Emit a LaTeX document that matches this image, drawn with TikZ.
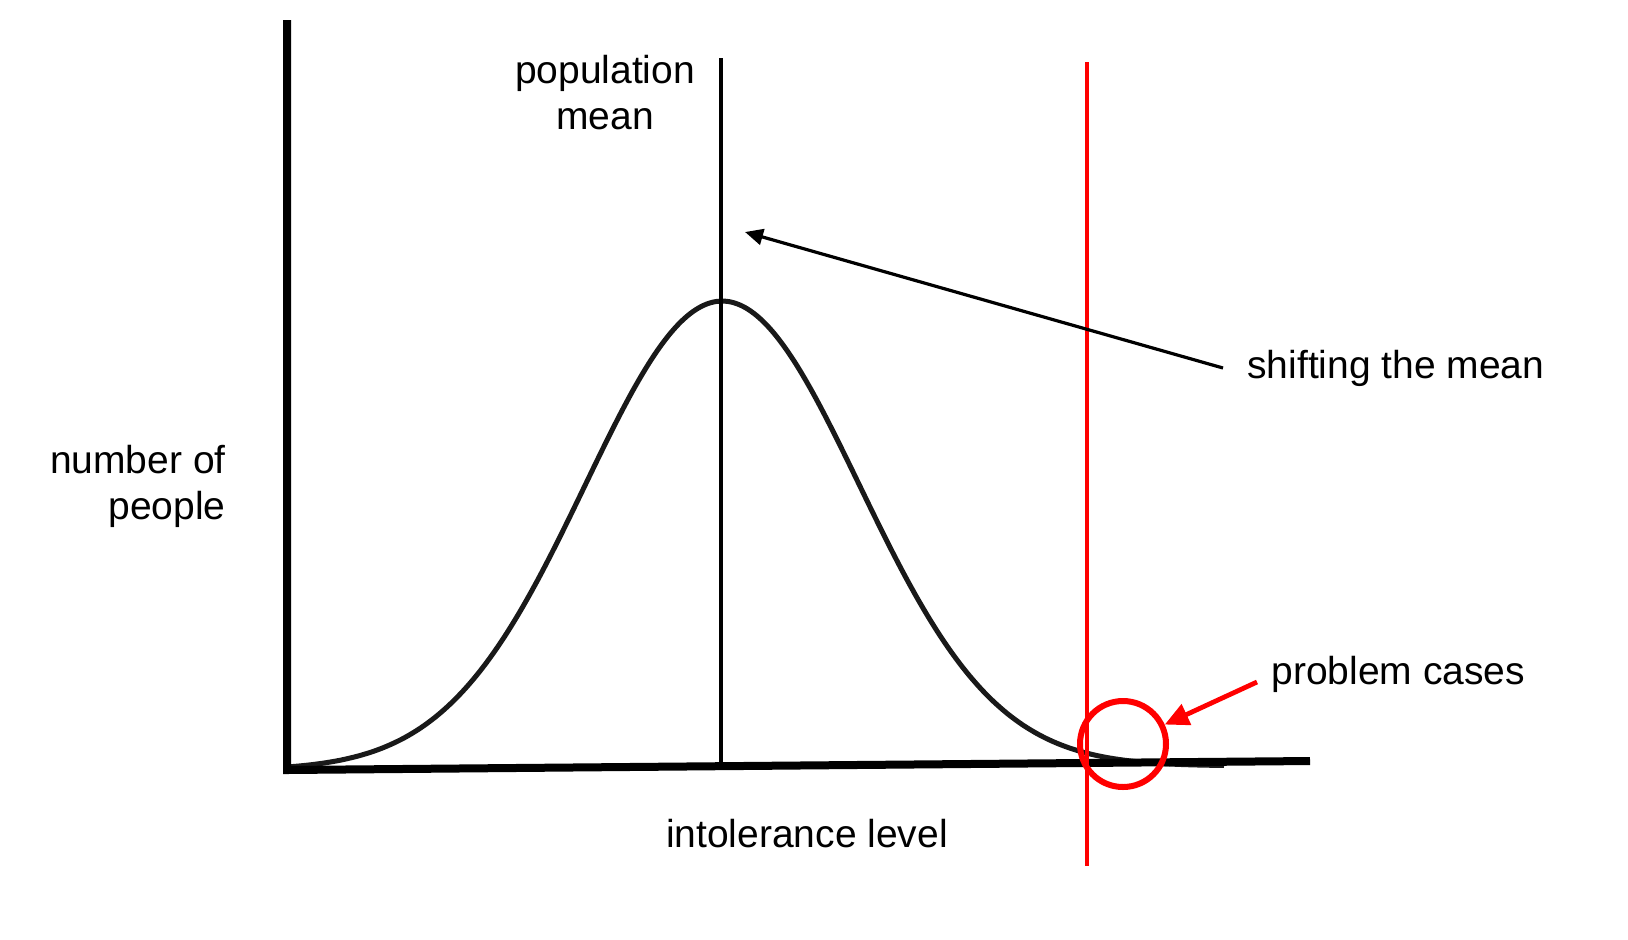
\documentclass[tikz,border=0pt]{standalone}
\usepackage{fontspec}
\setmainfont{Liberation Sans}
\usetikzlibrary{arrows.meta}

\begin{document}
\begin{tikzpicture}[x=0.5pt, y=-0.5pt,
        txt/.style={inner sep=0pt, font=\fontsize{19.5}{23}\selectfont},
        note/.style={txt, anchor=west},
        axis/.style={line width=4pt, line join=miter},
        bell/.style={line width=2.5pt, black!90},
        cut/.style={red, line width=2.3pt},
        ring/.style={circle, draw=red, line width=3pt, minimum size=43pt, inner sep=0pt},
        shiftarrow/.style={line width=1.6pt, -{Triangle[length=9pt,width=8pt]}},
        casearrow/.style={red, line width=2.4pt, -{Triangle[length=12pt,width=11pt]}}
        ]
    \useasboundingbox (0,0) rectangle (1628,939);

    \coordinate (ytop)     at (287,20);
    \coordinate (origin)   at (287,770);
    \coordinate (xend)     at (1310,761);
    \coordinate (meantop)  at (721,58);
    \coordinate (meanbot)  at (721,768);
    \coordinate (meantip)  at (745,232);
    \coordinate (cuttop)   at (1087,62);
    \coordinate (cutbot)   at (1087,866);

    \node[txt, align=center]            (popmean)  at (605,93)    {population\\mean};
    \node[txt, align=right, anchor=east] (ylabel)  at (226,486)   {number of\\people};
    \node[txt]                          (xlabel)   at (807,834)   {intolerance level};
    \node[note, inner xsep=12pt]        (shift)    at (1223,368)  {shifting the mean};
    \node[note, inner xsep=7pt]         (problem)  at (1257,674)  {problem cases};

    % curve
    \draw[bell] plot[domain=289:1224, samples=200, smooth]
        (\x, {770 - 4*(\x-287)/937 - 467*exp(-((\x-722)/137)*((\x-722)/137)/2)});

    % axes
    \draw[axis] (ytop) -- (origin) -- (xend);
    \draw[line width=2pt] (meantop) -- (meanbot);
    \draw[cut] (cuttop) -- (cutbot);

    \node[ring] (cases) at (1123,744) {};

    %Arrows
    \draw[shiftarrow] (shift.west) -- (meantip);
    \draw[casearrow] ([yshift=-4pt]problem.west) -- (cases.25);

\end{tikzpicture}
\end{document}
